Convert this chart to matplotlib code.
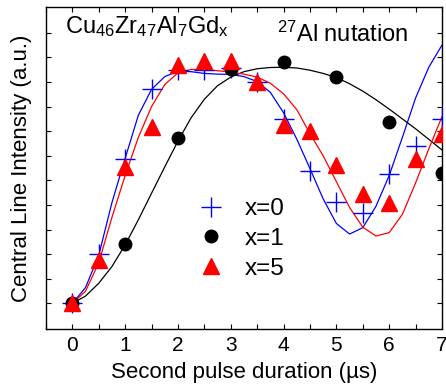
import matplotlib.pyplot as plt

plt.rcParams['font.family'] = ['Liberation Sans', 'DejaVu Sans']
plt.rcParams['mathtext.fontset'] = 'custom'
plt.rcParams['mathtext.rm'] = 'Liberation Sans'
plt.rcParams['mathtext.it'] = 'Liberation Sans:italic'

# Measured points (second pulse duration in us, intensity in a.u.)
t_points = [0, 0.5, 1, 1.5, 2, 2.5, 3, 3.5, 4, 4.5, 5, 5.5, 6, 6.5, 7]
x0_points = [0.0, 0.201, 0.586, 0.872, 0.949, 0.949, 0.957, 0.90, 0.75,
             0.54, 0.414, 0.368, 0.526, 0.64, 0.75]
t_x1 = [0, 1, 2, 3, 4, 5, 6, 7]
x1_points = [0.0, 0.242, 0.672, 0.953, 0.983, 0.922, 0.739, 0.53]
x5_points = [0.0, 0.177, 0.556, 0.717, 0.97, 0.986, 0.986, 0.90, 0.725,
             0.70, 0.563, 0.445, 0.41, 0.587, 0.69]

# Fit curves, every 0.25 us
fit_t = [0, 0.25, 0.5, 0.75, 1.0, 1.25, 1.5, 1.75, 2.0, 2.25, 2.5, 2.75,
         3.0, 3.25, 3.5, 3.75, 4.0, 4.25, 4.5, 4.75, 5.0, 5.25, 5.5, 5.75,
         6.0, 6.25, 6.5, 6.75, 7.0]
fit_x0 = [0.0, 0.065, 0.195, 0.41, 0.59, 0.765, 0.87, 0.922, 0.944, 0.942,
          0.935, 0.932, 0.931, 0.922, 0.902, 0.858, 0.775, 0.668, 0.548,
          0.425, 0.325, 0.282, 0.308, 0.395, 0.52, 0.675, 0.835, 0.96,
          1.05]
fit_x5 = [0.0, 0.05, 0.165, 0.35, 0.52, 0.675, 0.8, 0.89, 0.937, 0.951,
          0.95, 0.946, 0.94, 0.932, 0.92, 0.895, 0.852, 0.788, 0.69,
          0.6, 0.495, 0.39, 0.31, 0.274, 0.288, 0.362, 0.49, 0.628, 0.759]
fit_x1 = [0.0, 0.03, 0.082, 0.15, 0.238, 0.34, 0.448, 0.555, 0.66, 0.755,
          0.83, 0.885, 0.92, 0.942, 0.954, 0.959, 0.96, 0.957, 0.948,
          0.935, 0.918, 0.893, 0.863, 0.828, 0.79, 0.75, 0.71, 0.667,
          0.624]

plt.figure(figsize=(4.46, 3.88), dpi=100)
ax = plt.axes([0.103, 0.152, 0.888, 0.830])

# Fit lines under the markers
ax.plot(fit_t, fit_x0, color='#0000ff', lw=0.9)
ax.plot(fit_t, fit_x1, color='black', lw=0.9)
ax.plot(fit_t, fit_x5, color='#ff0000', lw=0.9)

ax.plot(t_points, x0_points, '+', color='#0000ff', ms=14, mew=1.0,
        label='x=0', zorder=3)
ax.plot(t_x1, x1_points, 'o', color='black', ms=9, label='x=1', zorder=3)
ax.plot(t_points, x5_points, '^', color='#ff0000', ms=11, label='x=5',
        zorder=3)

ax.set_xlim(-0.5, 7.0)
ax.set_ylim(-0.104, 1.205)
ax.set_xticks(range(0, 8))
ax.set_xticks([i * 0.5 for i in range(-1, 15)], minor=True)
ax.set_yticks([i * 0.1 for i in range(12)])
ax.set_yticklabels([])
ax.tick_params(which='both', direction='in', top=True, right=True,
               length=3.5, width=0.8, labelsize=15, pad=5)
for s in ax.spines.values():
    s.set_linewidth(1.0)

ax.set_xlabel('Second pulse duration (\u00b5s)', fontsize=16, labelpad=5)
ax.set_ylabel('Central Line Intensity (a.u.)', fontsize=16, labelpad=5)

ax.text(-0.133, 1.10, r'Cu$_{46}$Zr$_{47}$Al$_{7}$Gd$_{\mathrm{x}}$',
        fontsize=17, ha='left', va='baseline')
ax.text(3.88, 1.063, r'$^{27}$Al nutation', fontsize=17, ha='left',
        va='baseline')

ax.legend(loc='center left', bbox_to_anchor=(0.381, 0.28), frameon=False,
          fontsize=17.5, handlelength=1.2, handletextpad=0.76,
          labelspacing=0.32, borderaxespad=0, borderpad=0)

plt.savefig('out.png', dpi=100)
plt.close()
